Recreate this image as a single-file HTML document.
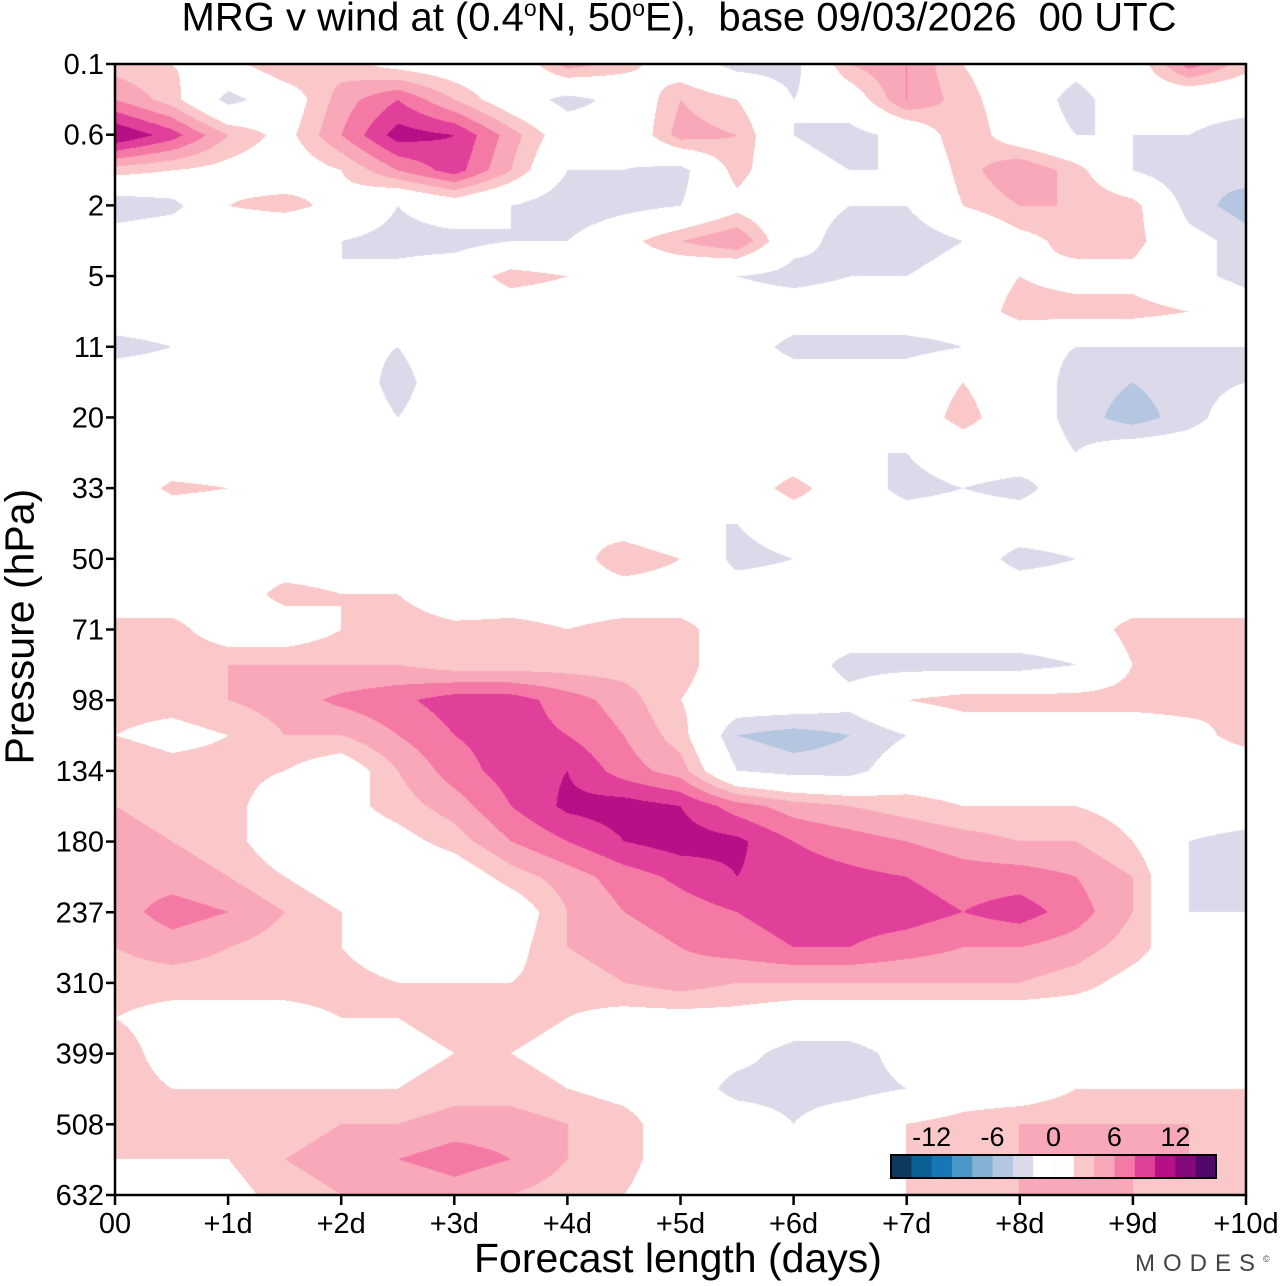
<!DOCTYPE html>
<html><head><meta charset="utf-8">
<style>
body{margin:0;background:#fff;width:1280px;height:1286px;overflow:hidden;font-family:"Liberation Sans",sans-serif;}
#wrap{position:relative;width:1280px;height:1286px;}
canvas{position:absolute;left:0;top:0;}
.t{position:absolute;color:#000;white-space:nowrap;}
</style></head>
<body>
<div id="wrap">
<div class="t" style="left:0;width:1358px;text-align:center;top:-5px;font-size:40px;">MRG v wind at (0.4<sup style="font-size:23px">o</sup>N, 50<sup style="font-size:23px">o</sup>E),&nbsp; base 09/03/2026&nbsp; 00 UTC</div>
<canvas id="cv" width="1280" height="1286"></canvas>
<svg id="ax" width="1280" height="1286" style="position:absolute;left:0;top:0"></svg>
<div class="t" style="left:474px;top:1235px;font-size:41px;">Forecast length (days)</div>
<div class="t" style="left:-115px;top:606px;font-size:41px;transform:rotate(-90deg);width:270px;text-align:center;">Pressure (hPa)</div>
<div class="t" style="left:1135px;top:1250px;font-size:24px;letter-spacing:8px;color:#444;">MODES<sup style="font-size:9px;letter-spacing:0">©</sup></div>
</div>
<script>
const days=[0,0.5,1,1.5,2,2.5,3,3.5,4,4.5,5,5.5,6,6.5,7,7.5,8,8.5,9,9.5,10];
const levelLabels=["0.1","0.6","2","5","11","20","33","50","71","98","134","180","237","310","399","508","632"];
const dayLabels=["00","+1d","+2d","+3d","+4d","+5d","+6d","+7d","+8d","+9d","+10d"];
const cbarLabels=[-12,-6,0,6,12];
const cbarColors=["#0d3a5c","#0b5f95","#1677b5","#4a98c8","#84b0d4","#b4c6e0","#dcdaea","#ffffff","#fffcfd","#fac8c8","#f8a8b8","#f47aa5","#e1409a","#b80e86","#870878","#52076a"];
// rows = half pressure levels from 0.1 (top) to 632 hPa (bottom); columns = days
const vwind=[
[3,2,1,4,3,1,0,-1,5,3,0,-3,-3,4,6,2,0,-1,0,7,3],
[6,3,-3,0,5,8,4,0,-3,-1,4,2,-2,0,6,3,0,-3,0,-1,-1],
[12,9,4,1,6,11,10,5,0,-1,5,4,-2,-3,-1,4,0,-2,-2,-2,-3],
[3,2,1,0,2,6,9,4,-2,-2,-3,3,-1,-2,-2,3,6,3,-2,-4,-3],
[-4,-3,2,3,1,-2,0,-2,-4,-3,-2,1,-1,-2,-2,2,4,4,3,-3,-5],
[0,1,-1,-2,-2,-3,-3,-2,-2,1,4,6,-1,-3,-4,-2,1,3,3,-1,-3],
[2,0,-2,-2,-2,-1,0,3,2,0,-1,-2,-3,-2,-2,0,2,1,1,-1,-3],
[0,0,0,0,0,0,0,0,0,0,0,0,0,0,0,0,3,3,3,2,0],
[-3,-2,0,0,-1,-2,0,-1,-1,-2,-1,0,-3,-3,-3,-2,-1,-2,-2,-2,-2],
[0,0,0,0,0,-3,0,0,0,0,0,0,0,0,0,2,0,-3,-4,-3,-2],
[0,2,0,0,0,-2,0,2,0,0,-2,0,0,0,0,3,0,-3,-5,-3,0],
[0,0,0,0,0,0,0,0,0,0,0,0,0,-2,-2,0,0,-2,0,0,0],
[0,2.5,2,0,0,0,2,0,0,0,0,0,3,0,-3,-2,-3,0,0,-2,0],
[0,0,0,0,0,0,0,0,2,0,-2,-2,0,0,0,0,0,0,0,0,0],
[0,0,0,0,0,0,0,0,0,4,2,-3,-2,0,0,0,-3,-2,0,2,2],
[0,0,0,3,2,2,-1,0,0,0,0,0,0,0,0,0,0,0,0,0,0],
[3,3,0,0,2,4,3,3,2,3,3,0,0,0,0,0,0,0,3,3,3],
[4,4,4,4,4,4,3,3,3,3,3,0,0,-3,-3,-3,-3,-2,2,2,3],
[3,3,4,5,6.5,7.5,9,9,7,5,2,0,0,-1,2,3,3,3,3,3,2],
[2,1,2,4,4,6,8,9,8,6,3,-4,-5,-4,-2,0,0,0,0,1,3],
[4,3,3,2,0,4,7,9,10,7,5,-2,-3,-3,0,0,0,0,0,0,0],
[4,3,3,0,1,3,5,8,10.5,11,10,7,5,4,3,2,2,2,1,0,0],
[5,4,3,0,0,1,3,6,8,10,11,10.5,8,7,6,5,4,4,2,-2,-3],
[5,5,4,2,0,-1,0,3,5,7,8.5,10,9,8.5,8,7,7,6,4,-2,-3],
[5,7,6,4,2,-2,-2,0,4,6,7,8,9,9,9,8,9,7,4,-2,-2],
[4,5,4,3,2,0,0,1,4,5,6,7,8,8,7,6,6,5,3,0,-1],
[3,3,3,3,3,2,2,2,3,4,5,4,4,4,4,4,4,3,1,0,0],
[2,1,1,1,2,2,3,3,2,1,1,1,0,0,0,0,0,0,0,0,0],
[3,1,0,0,0,1,2,2,1,0,0,-1,-3,-3,-1,0,0,0,0,0,0],
[3,2,2,2,2,2,3,3,2,1,0,-3,-3,-3,-2,0,0,2,2,2,2],
[3,3,3,3,4,4,5,5,4,3,0,0,-2,0,2,3,4,4,4,4,3],
[2,2,2,4,5,6,7,6,4,3,0,0,0,0,2,3,4,5,4,4,3],
[0,1,1,3,4,4,5,4,3,2,0,0,0,0,2,3,4,4,4,3,3]
];
const X0=115,X1=1246,Y0=64,Y1=1195;
const nRows=vwind.length;
function xScale(d){return X0+(d-days[0])/(days[days.length-1]-days[0])*(X1-X0);}
function yScaleLevel(i){return Y0+i/(levelLabels.length-1)*(Y1-Y0);}
function hex(c){return [parseInt(c.substr(1,2),16),parseInt(c.substr(3,2),16),parseInt(c.substr(5,2),16)];}
const rgb=cbarColors.map(hex);
rgb[8]=[255,255,255];
function bin(v){let i=Math.floor((v+16)/2);return Math.max(0,Math.min(15,i));}
const cv=document.getElementById('cv');const ctx=cv.getContext('2d');
const W=X1-X0,H=Y1-Y0;
const img=ctx.createImageData(W,H);
const nC=days.length;
for(let py=0;py<H;py++){
  const fr=py/(H-1)*(nRows-1);let r=Math.min(Math.floor(fr),nRows-2);const ty=fr-r;
  for(let px=0;px<W;px++){
    const fc=px/(W-1)*(nC-1);let c=Math.min(Math.floor(fc),nC-2);const tx=fc-c;
    const v=(vwind[r][c]*(1-tx)+vwind[r][c+1]*tx)*(1-ty)+(vwind[r+1][c]*(1-tx)+vwind[r+1][c+1]*tx)*ty;
    const col=rgb[bin(v)];const k=(py*W+px)*4;
    img.data[k]=col[0];img.data[k+1]=col[1];img.data[k+2]=col[2];img.data[k+3]=255;
  }
}
ctx.putImageData(img,X0,Y0);
const svg=document.getElementById('ax');const NS='http://www.w3.org/2000/svg';
function mk(tag,attrs,parent){const e=document.createElementNS(NS,tag);for(const k in attrs)e.setAttribute(k,attrs[k]);(parent||svg).appendChild(e);return e;}
const frame=mk('rect',{x:X0,y:Y0,width:X1-X0,height:Y1-Y0,fill:'none',stroke:'#000','stroke-width':2.5});


levelLabels.forEach((lab,i)=>{
  const y=yScaleLevel(i);
  const tk=mk('line',{x1:X0-9,x2:X0,y1:y,y2:y,stroke:'#000','stroke-width':2.5});
  
  
  const t=mk('text',{x:X0-11,y:y+10,'text-anchor':'end','font-size':29,'font-family':'Liberation Sans, sans-serif'});
  t.textContent=lab;
  
  
});
dayLabels.forEach((lab,i)=>{
  const x=xScale(i);
  const tk=mk('line',{x1:x,x2:x,y1:Y1,y2:Y1+10,stroke:'#000','stroke-width':2.5});
  
  
  const t=mk('text',{x:x,y:Y1+38,'text-anchor':'middle','font-size':29,'font-family':'Liberation Sans, sans-serif'});
  t.textContent=lab;
  
  
});
const CB0=891,CB1=1216,CBY=1155,CBH=23,bw=(CB1-CB0)/cbarColors.length;
cbarColors.forEach((c,i)=>{
  const r=mk('rect',{x:CB0+i*bw,y:CBY,width:bw+0.5,height:CBH,fill:c});
  
  
});
const cbf=mk('rect',{x:CB0,y:CBY,width:CB1-CB0,height:CBH,fill:'none',stroke:'#000','stroke-width':2});


cbarLabels.forEach(v=>{
  const x=CB0+(v+16)/32*(CB1-CB0);
  const t=mk('text',{x:x,y:CBY-9,'text-anchor':'middle','font-size':27,'font-family':'Liberation Sans, sans-serif'});
  t.textContent=v;
  
  
});
</script>
</body></html>
